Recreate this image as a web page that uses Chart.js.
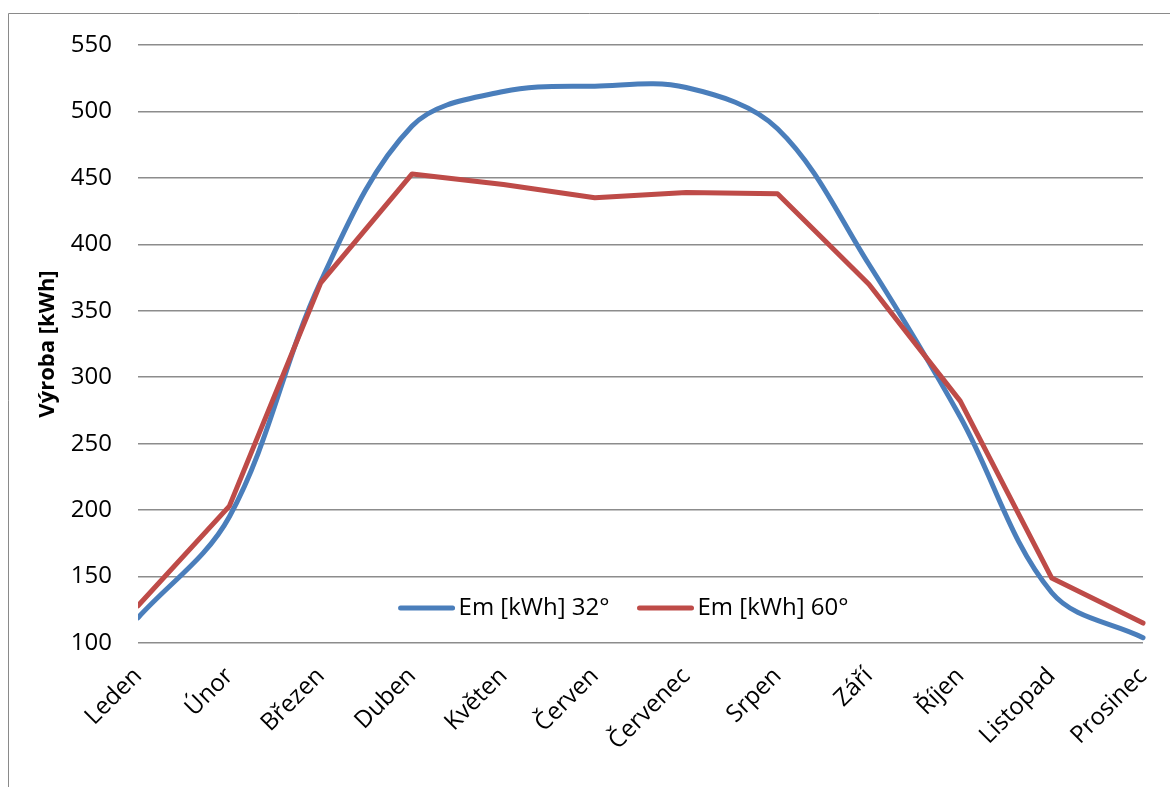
<!DOCTYPE html>
<html>
<head>
<meta charset="utf-8">
<script src="https://cdn.jsdelivr.net/npm/chart.js@4.4.1/dist/chart.umd.min.js"></script>
<style>
  html, body { margin: 0; padding: 0; background: #fff; overflow: hidden; }
  #wrap { position: relative; width: 1170px; height: 787px; }
</style>
</head>
<body>
<div id="wrap"><canvas id="chart" width="1170" height="787"></canvas></div>
<script>
// Monthly PV production for two panel tilts
const months = ['Leden', 'Únor', 'Březen', 'Duben', 'Květen', 'Červen',
                'Červenec', 'Srpen', 'Září', 'Říjen', 'Listopad', 'Prosinec'];
const em32 = [119, 195, 372, 489, 515, 519, 518, 487, 385, 270, 138, 104];
const em60 = [128, 203, 371, 453, 445, 435, 439, 438, 370, 282, 149, 115];
const seriesNames = ['Em [kWh] 32°', 'Em [kWh] 60°'];
const yMin = 100, yMax = 550, yStep = 50;
const axisTitle = 'Výroba [kWh]';

const FONT = '"Open Sans", "DejaVu Sans", sans-serif';
const BLUE = '#4a7ebb';
const RED = '#be4b48';

// Plot box geometry inside the 1170x787 canvas
const PLOT_LEFT = 138, PLOT_BOTTOM = 643;

// Legend drawn inside the plot, near its bottom edge
const insideLegend = {
  id: 'insideLegend',
  afterDatasetsDraw(chart) {
    const { ctx, chartArea: a } = chart;
    ctx.save();
    ctx.font = '24px ' + FONT;
    ctx.textBaseline = 'middle';
    ctx.fillStyle = '#000';
    const seg = 56, gapText = 4, gapItem = 28;
    const items = chart.data.datasets.map(d => ({
      label: d.label, color: d.borderColor, w: ctx.measureText(d.label).width
    }));
    const total = items.reduce((s, it) => s + seg + gapText + it.w, 0) + gapItem * (items.length - 1);
    let x = (a.left + a.right) / 2 - 17 - total / 2;
    const y = a.bottom - 35;
    items.forEach(it => {
      ctx.strokeStyle = it.color;
      ctx.lineWidth = 5;
      ctx.lineCap = 'round';
      ctx.beginPath();
      ctx.moveTo(x + 2, y);
      ctx.lineTo(x + seg - 2, y);
      ctx.stroke();
      ctx.fillText(it.label, x + seg + gapText, y);
      x += seg + gapText + it.w + gapItem;
    });
    ctx.restore();
  }
};

// Outer frame of the chart object
const frame = {
  id: 'frame',
  beforeDraw(chart) {
    const ctx = chart.ctx;
    ctx.save();
    ctx.strokeStyle = '#8a8a8a';
    ctx.lineWidth = 1;
    ctx.beginPath();
    ctx.moveTo(8.5, chart.height);
    ctx.lineTo(8.5, 13.5);
    ctx.lineTo(chart.width, 13.5);
    ctx.stroke();
    ctx.restore();
  }
};

const LAYOUT_LEFT = 8;

new Chart(document.getElementById('chart'), {
  type: 'line',
  data: {
    labels: months,
    datasets: [
      {
        label: seriesNames[0], data: em32, borderColor: BLUE, backgroundColor: BLUE,
        borderWidth: 5, tension: 0.35, pointRadius: 0, borderJoinStyle: 'round',
        borderCapStyle: 'round', order: 1, clip: { left: 0, right: 6, top: 6, bottom: 6 }
      },
      {
        label: seriesNames[1], data: em60, borderColor: RED, backgroundColor: RED,
        borderWidth: 5, tension: 0, pointRadius: 0, borderJoinStyle: 'round',
        borderCapStyle: 'round', order: 0, clip: { left: 0, right: 6, top: 6, bottom: 6 }
      }
    ]
  },
  options: {
    responsive: false,
    animation: false,
    devicePixelRatio: 1,
    layout: { padding: { left: LAYOUT_LEFT, top: 45, right: 27, bottom: 0 } },
    plugins: {
      legend: { display: false },
      tooltip: { enabled: false }
    },
    scales: {
      x: {
        offset: false,
        grid: { display: false, drawTicks: false },
        border: { display: false },
        ticks: {
          color: '#000', font: { family: FONT, size: 24 },
          minRotation: 45, maxRotation: 45, autoSkip: false, padding: 19
        },
        afterFit(scale) {
          scale.height = 787 - PLOT_BOTTOM;
          scale.paddingLeft = 0;
          scale.paddingRight = 0;
        }
      },
      y: {
        min: yMin, max: yMax,
        grid: { color: '#8c8c8c', lineWidth: 1.5, drawTicks: false },
        border: { display: false },
        ticks: {
          stepSize: yStep, color: '#000', padding: 26,
          font: { family: FONT, size: 24 }
        },
        title: {
          display: true, text: axisTitle, color: '#000',
          font: { family: FONT, size: 22, weight: 'bold' },
          padding: { top: 27, bottom: 0 }
        },
        afterFit(scale) {
          scale.width = PLOT_LEFT - LAYOUT_LEFT;
        }
      }
    }
  },
  plugins: [frame, insideLegend]
});
</script>
</body>
</html>
